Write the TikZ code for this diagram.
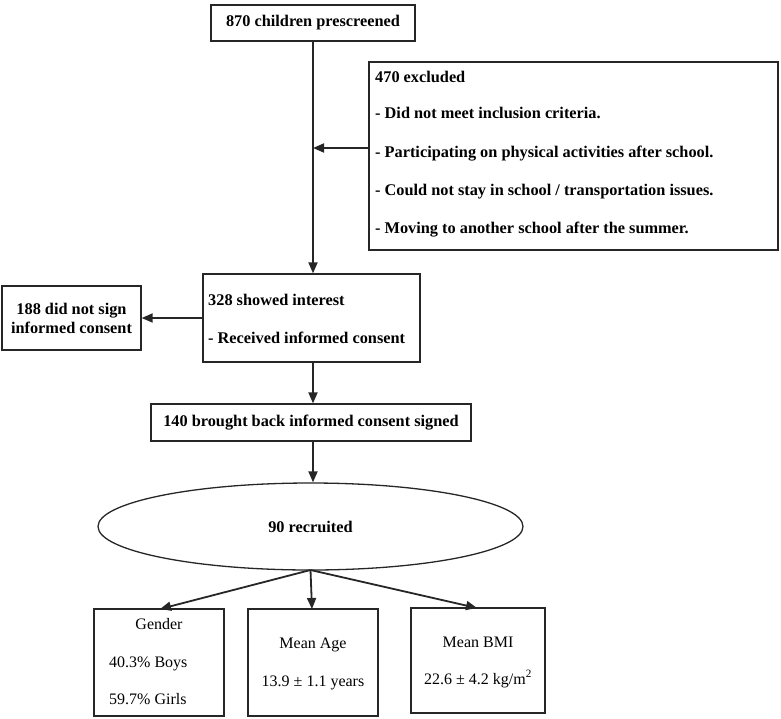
\documentclass[tikz,border=0pt]{standalone}
\usepackage{fontspec}
\setmainfont{Liberation Serif}
\usetikzlibrary{shapes.geometric,arrows.meta}
\begin{document}
\begin{tikzpicture}[x=1pt,y=-1pt,
  box/.style={draw=black!85, line width=1.3pt, rectangle, inner sep=0pt},
  bt/.style={font=\fontsize{16.3}{19}\selectfont\bfseries},
  nt/.style={font=\fontsize{16}{19}\selectfont},
  arr/.style={draw=black!85, line width=1.8pt, -{Triangle[length=11pt,width=9pt]}},
  ln/.style={draw=black!85, line width=1.8pt}]
\useasboundingbox (0,0) rectangle (781,718);

\node[box,bt,minimum width=204pt,minimum height=36pt] (top) at (313,23) {870 children prescreened};

\node[box,minimum width=409pt,minimum height=188pt] (excl) at (573.5,156) {};
\node[bt,anchor=base west,inner sep=0pt] (e0) at (375,82) {470 excluded};
\node[bt,anchor=base west,inner sep=0pt] (e1) at (375,118) {- Did not meet inclusion criteria.};
\node[bt,anchor=base west,inner sep=0pt] (e2) at (375,157) {- Participating on physical activities after school.};
\node[bt,anchor=base west,inner sep=0pt] (e3) at (375,195) {- Could not stay in school / transportation issues.};
\node[bt,anchor=base west,inner sep=0pt] (e4) at (375,233) {- Moving to another school after the summer.};

\node[box,minimum width=217pt,minimum height=88pt] (int) at (311.5,318) {};
\node[bt,anchor=base west,inner sep=0pt] (i0) at (208,305) {328 showed interest};
\node[bt,anchor=base west,inner sep=0pt] (i1) at (208,343) {- Received informed consent};

\node[box,bt,align=center,minimum width=139pt,minimum height=64pt] (nosign) at (71.5,318) {188 did not sign\\informed consent};

\node[box,bt,minimum width=320pt,minimum height=37pt] (back) at (311,422.5) {140 brought back informed consent signed};

\node[ellipse,draw=black!85,line width=1.3pt,bt,minimum width=425pt,minimum height=87pt,inner sep=0pt] (rec) at (310.5,526.5) {90 recruited};

\node[box,minimum width=130pt,minimum height=107pt] (gen) at (159,662.5) {};
\node[nt,anchor=base,inner sep=0pt] (g0) at (159,629) {Gender};
\node[nt,anchor=base west,inner sep=0pt] (g1) at (109,667) {40.3\% Boys};
\node[nt,anchor=base west,inner sep=0pt] (g2) at (109,704) {59.7\% Girls};

\node[box,minimum width=130pt,minimum height=107pt] (age) at (313,662.5) {};
\node[nt,anchor=base,inner sep=0pt] (a0) at (313,648) {Mean Age};
\node[nt,anchor=base,inner sep=0pt] (a1) at (313,686) {13.9 ± 1.1 years};

\node[box,minimum width=134pt,minimum height=105pt] (bmi) at (478,660.5) {};
\node[nt,anchor=base,inner sep=0pt] (b0) at (478,647) {Mean BMI};
\node[nt,anchor=base,inner sep=0pt] (b1) at (478,684) {22.6 ± 4.2 kg/m\textsuperscript{2}};

\coordinate (j1) at (313,148);
\coordinate (ex1) at (369,148);
\coordinate (gt) at (160,609);
\coordinate (at) at (312,609);
\coordinate (bt2) at (477,608);
\coordinate (rb) at (310.5,570);

\draw[arr] (top.south) -- (top.south |- int.north);
\draw[arr] (ex1) -- (j1);
\draw[arr] (int.west) -- (nosign.east);
\draw[arr] (int.south -| top.south) -- (back.north -| top.south);
\draw[arr] (back.south -| top.south) -- (rec.north -| top.south);
\draw[arr] (rb) -- (gt);
\draw[arr] (rb) -- (at);
\draw[arr] (rb) -- (bt2);
\end{tikzpicture}
\end{document}
